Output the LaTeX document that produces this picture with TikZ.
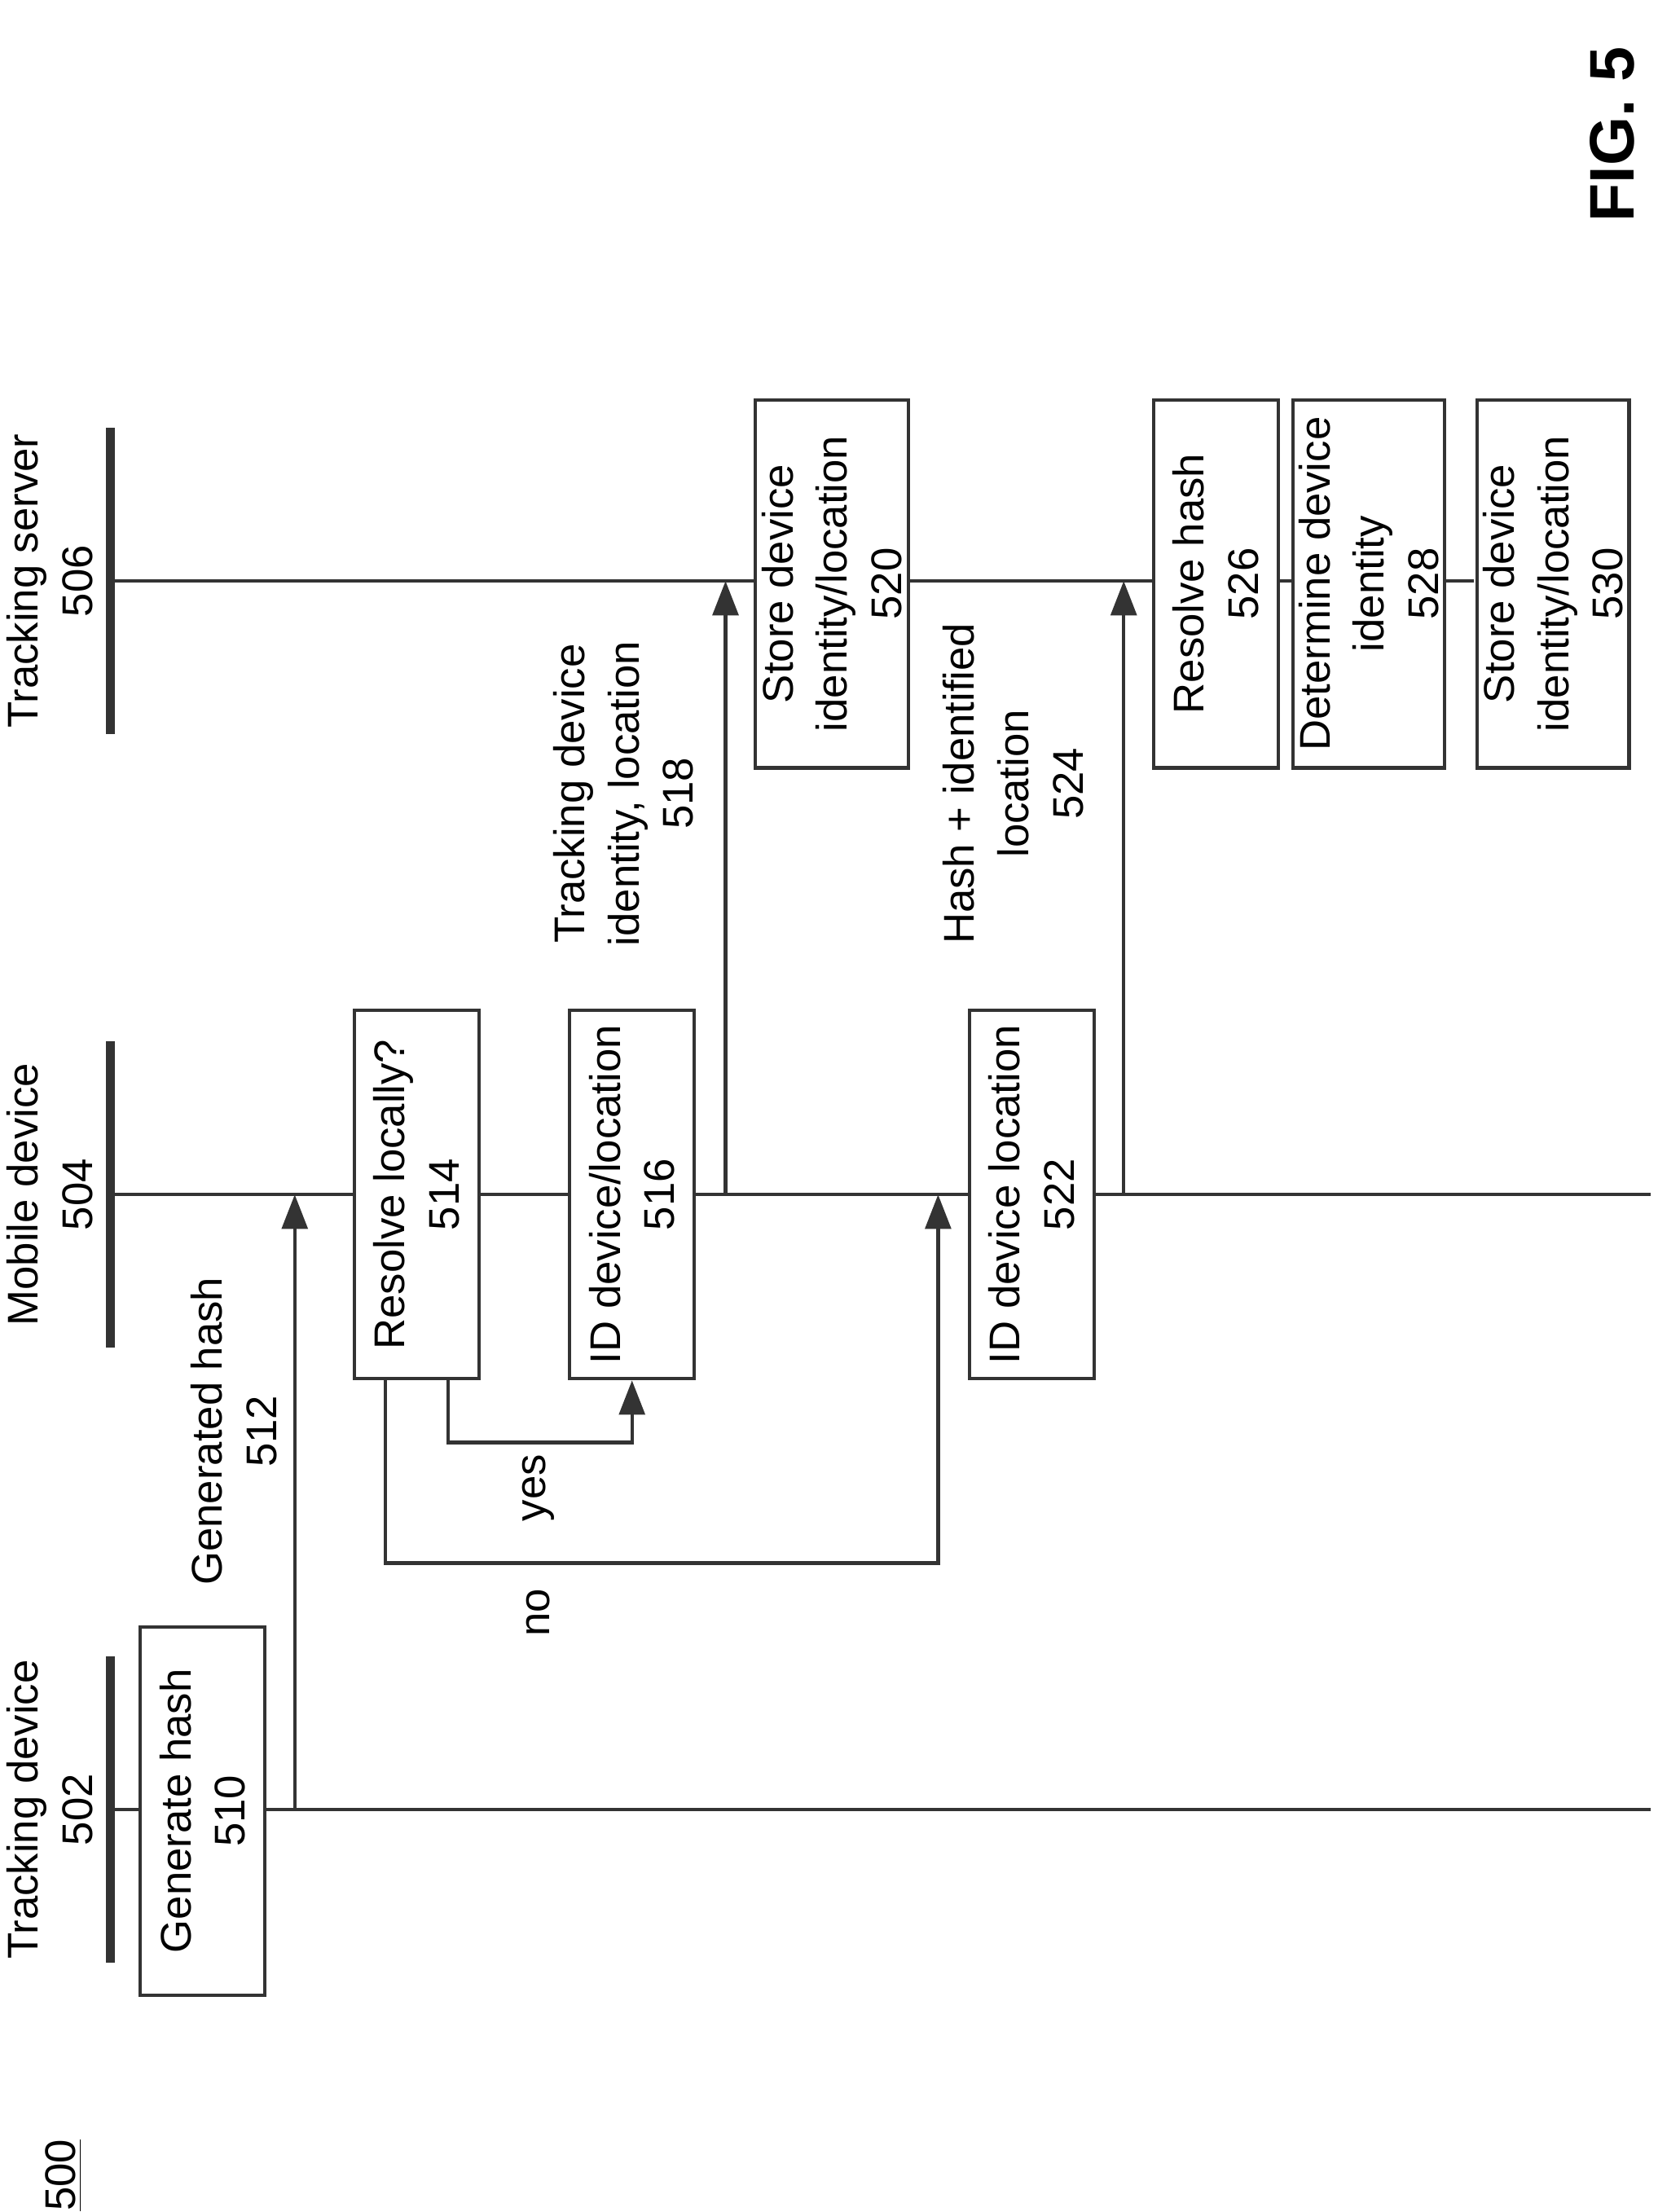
\documentclass[tikz,border=0pt]{standalone}
\usepackage{fontspec}
\setmainfont{Liberation Sans}
\usetikzlibrary{arrows.meta}
\begin{document}
\begin{tikzpicture}[x=0.01739cm, y=-0.01739cm, line width=1.2pt, draw=black!80,
    box/.style={draw, rotate=90, minimum width=4.52cm, minimum height=1.53cm, inner sep=2pt, align=center, font=\fontsize{15}{19}\selectfont},
    lbl/.style={rotate=90, align=center, font=\fontsize{15}{19}\selectfont},
    arr/.style={-{Triangle[length=12pt,width=9pt]}},
    tick/.style={line width=3pt}]
    \useasboundingbox (0,0) rectangle (1170,1561);

    % lifelines
    \foreach \name/\y/\t/\e in {td/1277/Tracking device\\502/1165, md/843/Mobile device\\504/1165, ts/410/Tracking server\\506/1040} {
        \coordinate (\name-s) at (80,\y);
        \coordinate (\name-e) at (\e,\y);
        \draw[tick] (78,\y-108) -- (78,\y+108);
        \draw (\name-s) -- (\name-e);
        \node[lbl] at (35,\y) {\t};
    }

    % boxes
    \node[box, fill=white] (b510) at (143,1278) {Generate hash\\510};
    \node[box, fill=white] (b514) at (294,843) {Resolve locally?\\514};
    \node[box, fill=white] (b516) at (446,843) {ID device/location\\516};
    \node[box, fill=white] (b522) at (728,843) {ID device location\\522};
    \node[box, fill=white, minimum height=1.88cm] (b520) at (587,412) {Store device\\identity/location\\520};
    \node[box, fill=white] (b526) at (858,412) {Resolve hash\\526};
    \node[box, fill=white] (b528) at (966,412) {Determine device\\identity\\528};
    \node[box, fill=white] (b530) at (1096,412) {Store device\\identity/location\\530};

    % messages
    \coordinate (m512) at (208,1277);
    \draw[arr] (m512) -- (m512 |- md-s);
    \node[lbl] at (165,1010) {Generated hash\\512};

    \draw[arr] (316,973) -- (316,1018) -- (446,1018) -- (b516.west);
    \node[lbl] at (380,1050) {yes};
    \draw[arr] (272,973) -- (272,1103) -- (662,1103) -- (662,843);
    \node[lbl] at (380,1138) {no};

    \coordinate (m518) at (512,843);
    \draw[arr] (m518) -- (m518 |- ts-s);
    \node[lbl] at (440,560) {Tracking device\\identity, location\\518};

    \coordinate (m524) at (793,843);
    \draw[arr] (m524) -- (m524 |- ts-s);
    \node[lbl] at (715,553) {Hash + identified\\location\\524};

    % captions
    \node[rotate=90, font=\bfseries\fontsize{22}{26}\selectfont] at (1138,95) {FIG. 5};
    \node[lbl] at (45,1535) {\underline{500}};
\end{tikzpicture}
\end{document}
